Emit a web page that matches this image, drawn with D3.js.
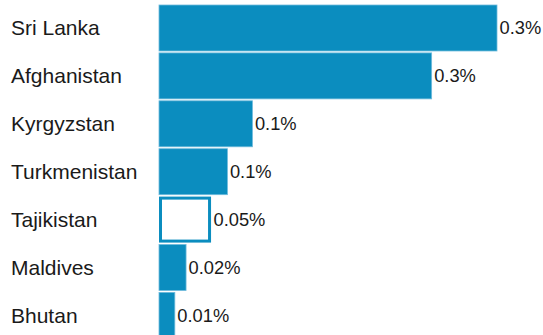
<!DOCTYPE html>
<html>
<head>
<meta charset="utf-8">
<script src="https://cdn.jsdelivr.net/npm/d3@7"></script>
<style>
  html, body { margin: 0; padding: 0; background: #fff; }
  svg { display: block; }
  text { font-family: "Liberation Sans", Arial, Helvetica, sans-serif; fill: #1a1a1a; }
</style>
</head>
<body>
<svg id="chart" width="543" height="335"></svg>
<script>
const countries = ["Sri Lanka", "Afghanistan", "Kyrgyzstan", "Turkmenistan", "Tajikistan", "Maldives", "Bhutan"];
const values = [0.331, 0.267, 0.0915, 0.0670, 0.0495, 0.0265, 0.0155];
const valueLabels = ["0.3%", "0.3%", "0.1%", "0.1%", "0.05%", "0.02%", "0.01%"];
const highlighted = ["Tajikistan"];

const data = countries.map((c, i) => ({ country: c, value: values[i], label: valueLabels[i] }));

const svg = d3.select("#chart");
const barColor = "#0b8dbf";

const x = d3.scaleLinear().domain([0, 0.331]).range([159, 497]);
const step = 47.9;
const y = d3.scaleBand()
  .domain(countries)
  .range([5, 5 + step * (countries.length - 0.04)])
  .paddingInner(0.04)
  .paddingOuter(0)
  .align(0);

// category labels
svg.append("g").selectAll("text")
  .data(data).join("text")
  .attr("x", 11)
  .attr("y", d => y(d.country) + y.bandwidth() / 2)
  .attr("dy", "0.35em")
  .style("font-size", "21px")
  .text(d => d.country);

// bars
const bars = svg.append("g");
bars.selectAll("rect")
  .data(data).join("rect")
  .attr("x", x(0))
  .attr("y", d => y(d.country))
  .attr("width", d => x(d.value) - x(0))
  .attr("height", y.bandwidth())
  .attr("fill", barColor)
  .attr("stroke", "#6fbbdc")
  .attr("stroke-width", 0.8)
  .each(function(d) {
    if (highlighted.includes(d.country)) {
      d3.select(this)
        .attr("x", x(0) + 1.5)
        .attr("y", y(d.country) + 1.5)
        .attr("width", x(d.value) - x(0) - 1.5)
        .attr("height", y.bandwidth() - 3)
        .attr("fill", "#ffffff")
        .attr("stroke", barColor)
        .attr("stroke-width", 3);
    }
  });

// value labels
svg.append("g").selectAll("text")
  .data(data).join("text")
  .attr("x", d => x(d.value) + (highlighted.includes(d.country) ? 4 : 2.5))
  .attr("y", d => y(d.country) + y.bandwidth() / 2)
  .attr("dy", "0.35em")
  .style("font-size", "18.3px")
  .text(d => d.label);
</script>
</body>
</html>
